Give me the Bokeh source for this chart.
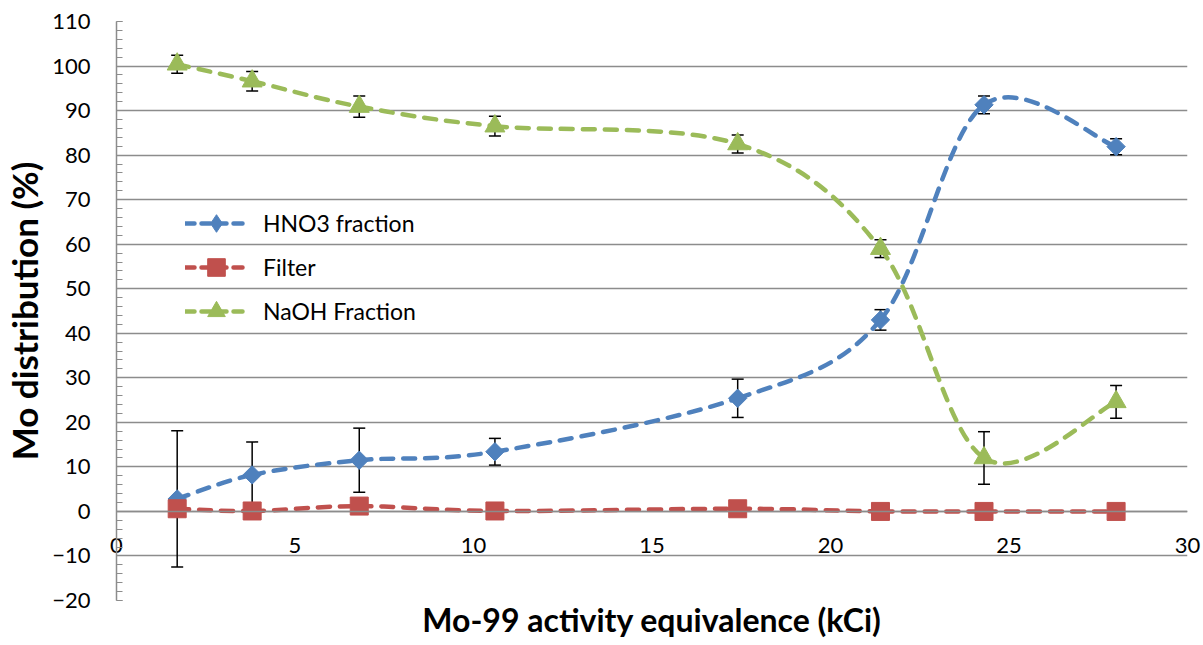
import numpy as np
from bokeh.plotting import figure
from bokeh.models import (ColumnDataSource, Whisker, TeeHead, Legend, LegendItem,
                          FixedTicker, Range1d, SingleIntervalTicker, LinearAxis)
from bokeh.embed import file_html
from bokeh.resources import INLINE

# ---------------- data ----------------
x_vals = [1.7, 3.8, 6.8, 10.6, 17.4, 21.4, 24.3, 28.0]
hno3 = [2.8, 8.2, 11.5, 13.4, 25.4, 43.0, 91.3, 81.9]
hno3_err = [15.3, 7.4, 7.2, 3.0, 4.3, 2.3, 2.0, 1.8]
filt = [0.6, 0.1, 1.2, 0.1, 0.6, 0.0, 0.0, 0.0]
naoh = [100.4, 96.6, 90.9, 86.5, 82.5, 59.0, 12.0, 24.6]
naoh_err = [2.0, 2.2, 2.4, 2.2, 2.0, 2.0, 5.9, 3.7]

series_names = ["HNO3 fraction", "Filter", "NaOH Fraction"]
x_ticks = [0, 5, 10, 15, 20, 25, 30]
x_title = "Mo-99 activity equivalence (kCi)"
y_title = "Mo distribution (%)"

BLUE = "#4F81BD"
RED = "#C0504D"
GREEN = "#9BBB59"
GRID = "#8C8C8C"
FONT = "Lato"

p = figure(width=1203, height=645, output_backend="svg", toolbar_location=None,
           x_range=Range1d(0, 30), y_range=Range1d(-20, 110),
           min_border_left=116, min_border_right=16, min_border_top=21, min_border_bottom=45)
p.outline_line_color = None
p.background_fill_color = "white"

# grid
p.xgrid.visible = False
p.ygrid.ticker = SingleIntervalTicker(interval=10)
p.ygrid.grid_line_color = GRID
p.ygrid.grid_line_width = 1.5

# y axis
p.yaxis.ticker = SingleIntervalTicker(interval=10, num_minor_ticks=5)
p.yaxis.axis_line_color = GRID
p.yaxis.axis_line_width = 1.5
p.yaxis.major_tick_line_color = GRID
p.yaxis.minor_tick_line_color = GRID
p.yaxis.major_tick_in = 6
p.yaxis.major_tick_out = 0
p.yaxis.minor_tick_in = 6
p.yaxis.minor_tick_out = 0
p.yaxis.major_label_standoff = 26
p.yaxis.major_label_text_font = FONT
p.yaxis.major_label_text_font_size = "22px"
p.yaxis.major_label_text_color = "black"
p.yaxis.axis_label = y_title
p.yaxis.axis_label_text_font = FONT
p.yaxis.axis_label_text_font_style = "bold"
p.yaxis.axis_label_text_font_size = "35px"
p.yaxis.axis_label_text_color = "black"
p.yaxis.axis_label_standoff = 4

# x axis line at y = 0
xa = p.xaxis[0]
xa.fixed_location = 0
xa.ticker = FixedTicker(ticks=x_ticks)
xa.axis_line_color = GRID
xa.axis_line_width = 1.5
xa.major_tick_in = 0
xa.major_tick_out = 0
xa.minor_tick_line_color = None
xa.major_label_text_alpha = 0

# x tick labels (lifted up next to y = 0) and the x title
lab_axis = LinearAxis(ticker=FixedTicker(ticks=x_ticks), axis_line_color=None,
                      major_tick_line_color=None, minor_tick_line_color=None,
                      major_tick_in=0, major_tick_out=0,
                      major_label_standoff=-63, major_label_text_font=FONT,
                      major_label_text_font_size="22px", major_label_text_color="black",
                      axis_label=x_title, axis_label_standoff=44,
                      axis_label_text_font=FONT, axis_label_text_font_style="bold",
                      axis_label_text_font_size="32px", axis_label_text_color="black")
p.add_layout(lab_axis, "below")


def smooth_segments(xs, ys):
    pts = np.column_stack([xs, ys]).astype(float)
    n = len(pts)
    d = dict(x0=[], y0=[], x1=[], y1=[], cx0=[], cy0=[], cx1=[], cy1=[])
    for i in range(n - 1):
        p0 = pts[i - 1] if i > 0 else pts[i]
        p1 = pts[i]
        p2 = pts[i + 1]
        p3 = pts[i + 2] if i + 2 < n else pts[i + 1]
        c1 = p1 + (p2 - p0) / 6.0
        c2 = p2 - (p3 - p1) / 6.0
        d["x0"].append(p1[0]); d["y0"].append(p1[1])
        d["x1"].append(p2[0]); d["y1"].append(p2[1])
        d["cx0"].append(c1[0]); d["cy0"].append(c1[1])
        d["cx1"].append(c2[0]); d["cy1"].append(c2[1])
    return ColumnDataSource(d)


def add_errors(xs, ys, errs):
    src = ColumnDataSource(dict(x=xs, lower=[y - e for y, e in zip(ys, errs)],
                                upper=[y + e for y, e in zip(ys, errs)]))
    w = Whisker(source=src, base="x", lower="lower", upper="upper",
                line_color="black", line_width=1.5,
                upper_head=TeeHead(size=12, line_color="black", line_width=1.5),
                lower_head=TeeHead(size=12, line_color="black", line_width=1.5))
    p.add_layout(w)


add_errors(x_vals, hno3, hno3_err)
add_errors(x_vals, naoh, naoh_err)

LW = 4.5
DASH = "12 10"
items = []
specs = [
    (hno3, BLUE, "square", 13, np.pi / 4, "diamond"),
    (filt, RED, "square", 18, 0.0, "square"),
    (naoh, GREEN, "triangle", 20, 0.0, "triangle"),
]
for name, (ys, color, marker, size, ang, leg_marker) in zip(series_names, specs):
    seg = smooth_segments(x_vals, ys)
    p.bezier(x0="x0", y0="y0", x1="x1", y1="y1", cx0="cx0", cy0="cy0",
             cx1="cx1", cy1="cy1", source=seg, line_color=color, line_width=LW,
             line_dash=DASH, line_cap="round")
    p.scatter(x=x_vals, y=ys, marker=marker, size=size, angle=ang,
              fill_color=color, line_color=color)
    dummy_line = p.line(x=[np.nan], y=[np.nan], line_color=color, line_width=LW,
                        line_dash="9 7", line_cap="round")
    dummy_mark = p.scatter(x=[np.nan], y=[np.nan], marker=leg_marker, size=size,
                           fill_color=color, line_color=color)
    items.append(LegendItem(label=name, renderers=[dummy_line, dummy_mark]))

legend = Legend(items=items, location=(69, 267), border_line_color=None,
                background_fill_alpha=0, padding=0, margin=0,
                glyph_width=62, glyph_height=44, label_height=44, spacing=0,
                label_standoff=16, label_text_font=FONT,
                label_text_font_size="23px", label_text_color="black")
p.add_layout(legend, "center")

open("out.html", "w").write(file_html(p, INLINE))
